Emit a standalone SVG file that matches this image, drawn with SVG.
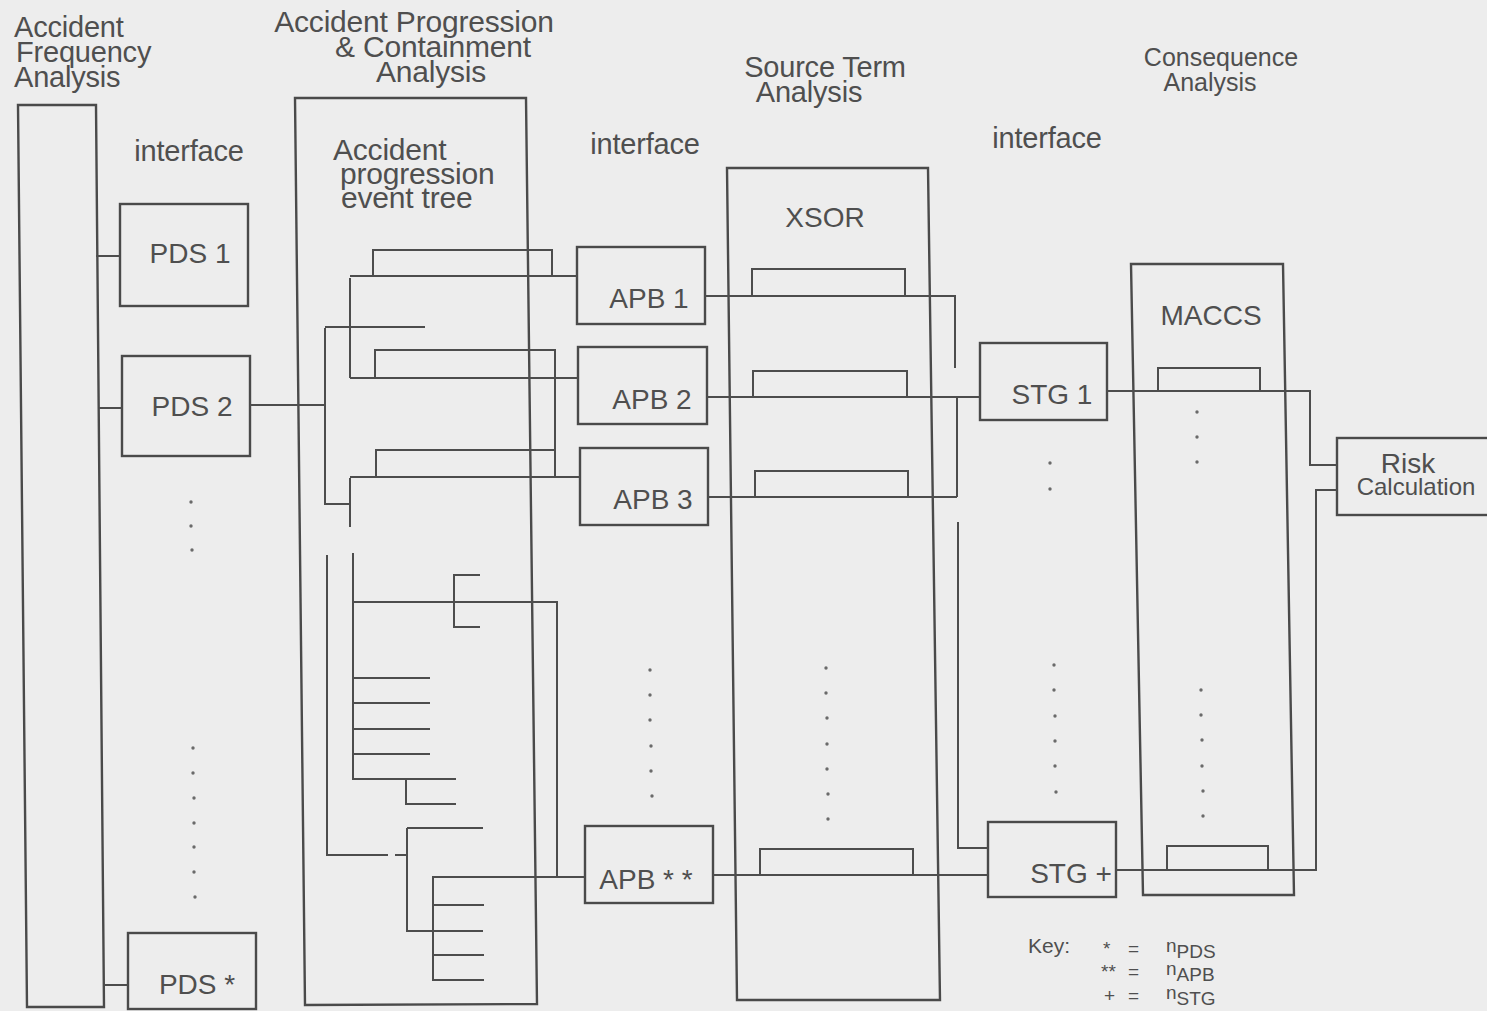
<svg xmlns="http://www.w3.org/2000/svg" width="1487" height="1011" viewBox="0 0 1487 1011">
<style>
.ln{fill:none;stroke:#4d4d4d;stroke-width:2;stroke-linejoin:miter;stroke-linecap:butt}
.bx{fill:none;stroke:#4a4a4a;stroke-width:2.4}
.t{font-family:"Liberation Sans",Arial,sans-serif;fill:#4f4f4f;font-size:28px}
.h{font-size:29px;letter-spacing:-0.2px}
.m{text-anchor:middle}
.k{font-size:19px}
.d{fill:#6a6a6a}
</style>
<rect x="0" y="0" width="1487" height="1011" fill="#ededed"/>

<g id="headings">
<text class="t h"><tspan x="14" y="37">Accident</tspan><tspan x="16" y="62">Frequency</tspan><tspan x="14" y="87">Analysis</tspan></text>
<text class="t h m" style="font-size:30px"><tspan x="414" y="32">Accident Progression</tspan><tspan x="433" y="57">&amp; Containment</tspan><tspan x="431" y="82">Analysis</tspan></text>
<text class="t h m"><tspan x="825" y="77">Source Term</tspan><tspan x="809" y="102">Analysis</tspan></text>
<text class="t m" style="font-size:25px"><tspan x="1221" y="66">Consequence</tspan><tspan x="1210" y="91">Analysis</tspan></text>
<text class="t h m" x="189" y="161">interface</text>
<text class="t h m" x="645" y="154">interface</text>
<text class="t h m" x="1047" y="148">interface</text>
</g>

<g id="afa"><path class="bx" d="M18,105 L96,105 L104,1007 L27,1007 Z"/></g>

<g id="apc">
<path class="bx" d="M295,98 L526,98 L537,1004 L305,1005 Z"/>
<text class="t h" style="font-size:30px"><tspan x="333" y="160">Accident</tspan><tspan x="340" y="184">progression</tspan><tspan x="341" y="208">event tree</tspan></text>
</g>

<g id="xsor">
<path class="bx" d="M727,168 L928,168 L940,1000 L737,1000 Z"/>
<text class="t m" x="825" y="227">XSOR</text>
</g>

<g id="maccs">
<path class="bx" d="M1131,264 L1283,264 L1294,895 L1143,895 Z"/>
<text class="t m" x="1211" y="325">MACCS</text>
</g>

<g id="pds1"><rect class="bx" x="120" y="204" width="128" height="102"/><text class="t m" x="190" y="263">PDS 1</text></g>
<g id="pds2"><rect class="bx" x="122" y="356" width="128" height="100"/><text class="t m" x="192" y="416">PDS 2</text></g>
<g id="pdsn"><rect class="bx" x="128" y="933" width="128" height="76"/><text class="t m" x="197" y="994">PDS *</text></g>

<g id="apb1"><rect class="bx" x="577" y="247" width="128" height="77"/><text class="t m" x="649" y="308">APB 1</text></g>
<g id="apb2"><rect class="bx" x="578" y="347" width="129" height="77"/><text class="t m" x="652" y="409">APB 2</text></g>
<g id="apb3"><rect class="bx" x="580" y="448" width="128" height="77"/><text class="t m" x="653" y="509">APB 3</text></g>
<g id="apbn"><rect class="bx" x="585" y="826" width="128" height="77"/><text class="t m" x="646" y="889">APB * *</text></g>

<g id="stg1"><rect class="bx" x="980" y="343" width="127" height="77"/><text class="t m" x="1052" y="404">STG 1</text></g>
<g id="stgn"><rect class="bx" x="988" y="822" width="128" height="75"/><text class="t m" x="1071" y="883">STG +</text></g>

<g id="risk"><rect class="bx" x="1337" y="438" width="155" height="77"/>
<text class="t m"><tspan x="1408" y="473">Risk</tspan><tspan x="1416" y="495" style="font-size:24px">Calculation</tspan></text></g>

<g id="connectors">
<path class="ln" d="M96,256 H120 M99,408 H122 M104,985 H128"/>
<path class="ln" d="M250,405 H325"/>
<path class="ln" d="M325,328 V504 H350 M325,327 H425"/>
<path class="ln" d="M350,278 V378"/>
<path class="ln" d="M350,276 H577 M373,276 V250 H552 V276"/>
<path class="ln" d="M350,378 H578 M375,378 V350 H555 V477"/>
<path class="ln" d="M350,478 V527 M350,477 H580 M376,477 V450 H555"/>
<path class="ln" d="M327,555 V855 H388 M395,855 H407"/>
<path class="ln" d="M353,553 V779 H456 M353,678 H430 M353,703 H430 M353,729 H430 M353,754 H430"/>
<path class="ln" d="M406,779 V804 H456"/>
<path class="ln" d="M353,602 H557 V877 M480,575 H454 V627 H480"/>
<path class="ln" d="M407,828 V931 H483 M407,828 H483"/>
<path class="ln" d="M432,877 H585 M433,877 V980 H484 M433,905 H484 M433,955 H484"/>
<path class="ln" d="M705,296 H955 V368 M752,296 V269 H905 V296"/>
<path class="ln" d="M707,397 H980 M753,397 V371 H907 V397 M957,397 V497"/>
<path class="ln" d="M708,497 H957 M755,497 V471 H908 V497"/>
<path class="ln" d="M713,875 H988 M760,875 V849 H913 V875"/>
<path class="ln" d="M958,522 V848 H988"/>
<path class="ln" d="M1107,391 H1310 V465 H1337 M1158,391 V368 H1260 V391"/>
<path class="ln" d="M1116,870 H1316 V490 H1337 M1167,870 V846 H1268 V870"/>
</g>

<g id="dots">
<circle class="d" cx="191" cy="502" r="1.7"/><circle class="d" cx="191" cy="526" r="1.7"/><circle class="d" cx="192" cy="550" r="1.7"/>
<circle class="d" cx="193" cy="748" r="1.7"/><circle class="d" cx="193" cy="773" r="1.7"/><circle class="d" cx="194" cy="798" r="1.7"/><circle class="d" cx="194" cy="823" r="1.7"/><circle class="d" cx="194" cy="847" r="1.7"/><circle class="d" cx="194" cy="872" r="1.7"/><circle class="d" cx="195" cy="897" r="1.7"/>
<circle class="d" cx="650" cy="670" r="1.7"/><circle class="d" cx="650" cy="695" r="1.7"/><circle class="d" cx="650" cy="720" r="1.7"/><circle class="d" cx="651" cy="746" r="1.7"/><circle class="d" cx="651" cy="771" r="1.7"/><circle class="d" cx="652" cy="796" r="1.7"/>
<circle class="d" cx="826" cy="668" r="1.7"/><circle class="d" cx="826" cy="693" r="1.7"/><circle class="d" cx="827" cy="718" r="1.7"/><circle class="d" cx="827" cy="744" r="1.7"/><circle class="d" cx="827" cy="769" r="1.7"/><circle class="d" cx="828" cy="794" r="1.7"/><circle class="d" cx="828" cy="819" r="1.7"/>
<circle class="d" cx="1050" cy="463" r="1.7"/><circle class="d" cx="1050" cy="489" r="1.7"/>
<circle class="d" cx="1054" cy="665" r="1.7"/><circle class="d" cx="1054" cy="690" r="1.7"/><circle class="d" cx="1055" cy="716" r="1.7"/><circle class="d" cx="1055" cy="741" r="1.7"/><circle class="d" cx="1055" cy="766" r="1.7"/><circle class="d" cx="1056" cy="792" r="1.7"/>
<circle class="d" cx="1197" cy="412" r="1.7"/><circle class="d" cx="1197" cy="437" r="1.7"/><circle class="d" cx="1197" cy="462" r="1.7"/>
<circle class="d" cx="1201" cy="690" r="1.7"/><circle class="d" cx="1201" cy="715" r="1.7"/><circle class="d" cx="1202" cy="740" r="1.7"/><circle class="d" cx="1202" cy="766" r="1.7"/><circle class="d" cx="1203" cy="791" r="1.7"/><circle class="d" cx="1203" cy="816" r="1.7"/>
</g>

<g id="key">
<text class="t" x="1028" y="953" style="font-size:21px">Key:</text>
<text class="t k"><tspan x="1103" y="955">*</tspan><tspan x="1128">=</tspan><tspan x="1166" y="952">n</tspan><tspan y="958">PDS</tspan></text>
<text class="t k"><tspan x="1101" y="978">**</tspan><tspan x="1128">=</tspan><tspan x="1166" y="975">n</tspan><tspan y="981">APB</tspan></text>
<text class="t k"><tspan x="1104" y="1002">+</tspan><tspan x="1128">=</tspan><tspan x="1166" y="999">n</tspan><tspan y="1005">STG</tspan></text>
</g>
</svg>
